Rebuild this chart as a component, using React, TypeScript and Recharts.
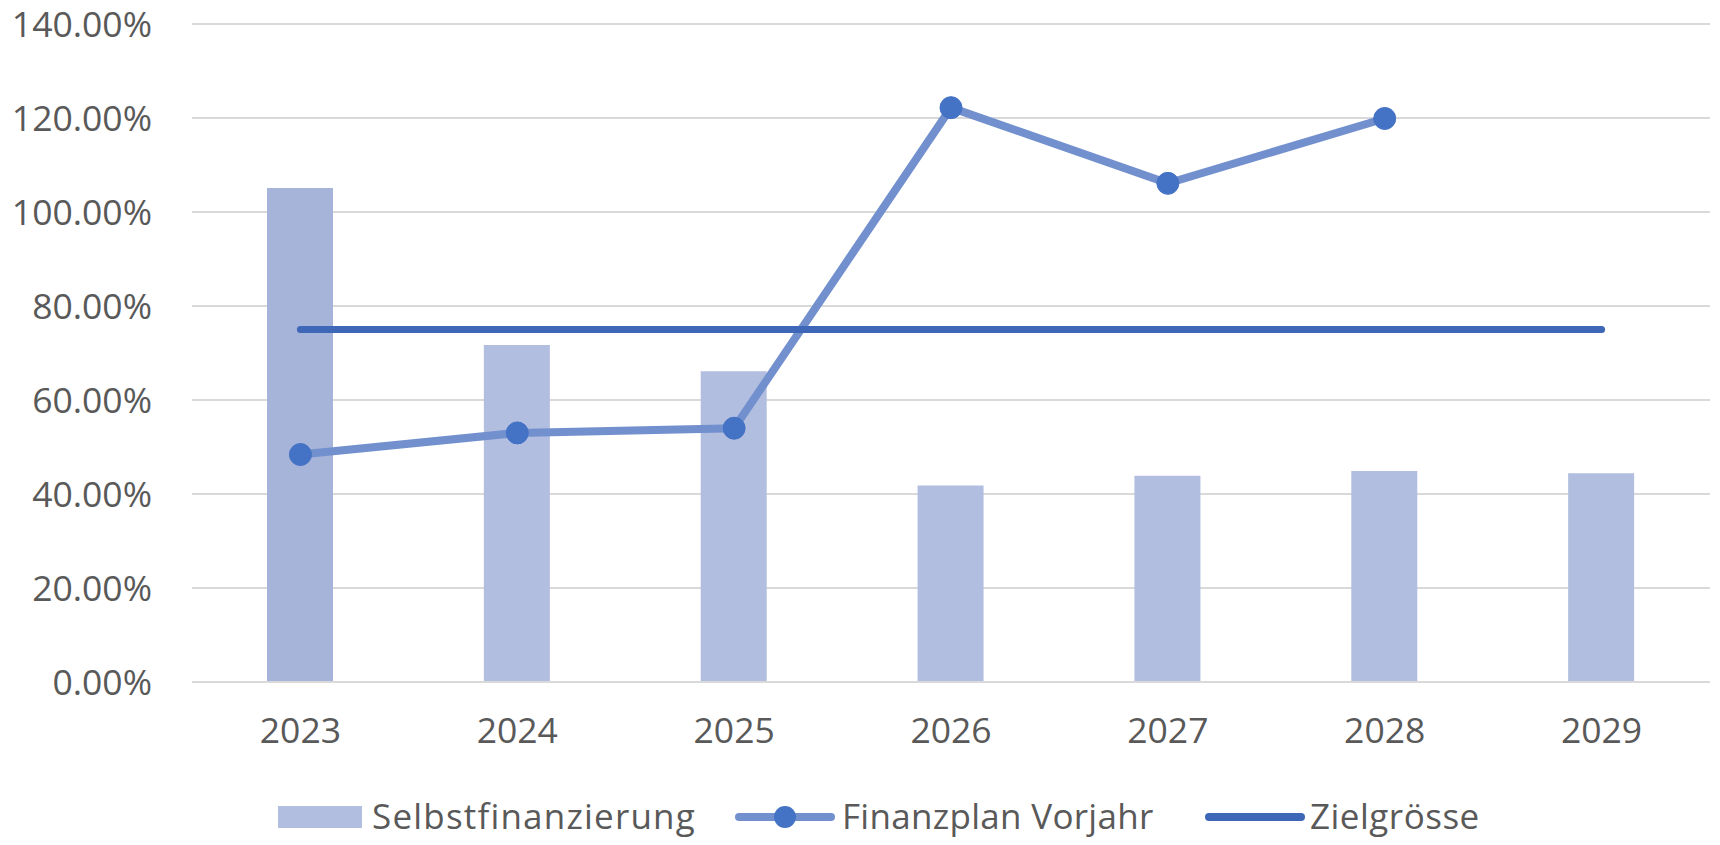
import React from 'react';
import { ComposedChart, Bar, Line, XAxis, YAxis, CartesianGrid, Legend, Cell } from 'recharts';

const years = ['2023', '2024', '2025', '2026', '2027', '2028', '2029'];
const selbstfinanzierung = [105.1, 71.7, 66.1, 41.8, 43.9, 44.9, 44.4];
const finanzplanVorjahr: (number | null)[] = [48.4, 53.0, 54.0, 122.2, 106.1, 119.9, null];
const zielgroesse = [75, 75, 75, 75, 75, 75, 75];
const yTicks = [0, 20, 40, 60, 80, 100, 120, 140];

const data = years.map((y, i) => ({
  year: y,
  selbst: selbstfinanzierung[i],
  finanz: finanzplanVorjahr[i],
  ziel: zielgroesse[i],
}));

const FONT = '"Open Sans", "Noto Sans", sans-serif';
const TEXT = '#595959';
const BAR = '#B2BEE0';
const BAR_FIRST = '#A6B4D9';
const LINE1 = '#7390CE';
const DOT = '#4472C4';
const LINE2 = '#3E67B8';

const LegendContent = () => (
  <div
    style={{
      position: 'relative',
      height: 100,
      width: 1720,
      fontFamily: FONT,
      fontSize: 35,
      color: TEXT,
    }}
  >
    <svg style={{ position: 'absolute', left: 276, top: 52 }} width={90} height={40}>
      <rect x={2} y={9} width={84} height={22} fill={BAR} />
    </svg>
    <span style={{ position: 'absolute', left: 372, top: 47, letterSpacing: 1.2, whiteSpace: 'nowrap' }}>
      Selbstfinanzierung
    </span>
    <svg style={{ position: 'absolute', left: 733, top: 52 }} width={104} height={40}>
      <line x1={6} y1={20} x2={98} y2={20} stroke={LINE1} strokeWidth={8} strokeLinecap="round" />
      <circle cx={52} cy={20} r={11} fill={DOT} />
    </svg>
    <span style={{ position: 'absolute', left: 842, top: 47, letterSpacing: 0.3, whiteSpace: 'nowrap' }}>
      Finanzplan Vorjahr
    </span>
    <svg style={{ position: 'absolute', left: 1203, top: 52 }} width={104} height={40}>
      <line x1={6} y1={20} x2={98} y2={20} stroke={LINE2} strokeWidth={8} strokeLinecap="round" />
    </svg>
    <span style={{ position: 'absolute', left: 1310, top: 47, letterSpacing: 0.5, whiteSpace: 'nowrap' }}>
      Zielgrösse
    </span>
  </div>
);

export default function App() {
  return (
    <div style={{ position: 'absolute', left: 0, top: 0, width: 1720, height: 845, background: '#fff' }}>
      <ComposedChart
        width={1720}
        height={845}
        data={data}
        margin={{ top: 24, right: 10, left: 0, bottom: 0 }}
        barCategoryGap="35%"
      >
        <CartesianGrid vertical={false} stroke="#D9D9D9" strokeWidth={2} />
        <XAxis
          dataKey="year"
          height={63}
          tickSize={0}
          tickMargin={36}
          axisLine={{ stroke: '#D9D9D9', strokeWidth: 2 }}
          tickLine={false}
          tick={{ fill: TEXT, fontSize: 35.5, fontFamily: FONT }}
          interval={0}
        />
        <YAxis
          width={192}
          domain={[0, 140]}
          ticks={yTicks}
          tickFormatter={(v: number) => v.toFixed(2) + '%'}
          tickSize={0}
          tickMargin={40}
          axisLine={false}
          tickLine={false}
          tick={{ fill: TEXT, fontSize: 35.5, fontFamily: FONT }}
        />
        <Legend
          verticalAlign="bottom"
          height={100}
          wrapperStyle={{ left: 0, width: 1720 }}
          content={() => <LegendContent />}
        />
        <Bar dataKey="selbst" name="Selbstfinanzierung" barSize={66} fill={BAR} isAnimationActive={false}>
          {data.map((d, i) => (
            <Cell key={d.year} fill={i === 0 ? BAR_FIRST : BAR} />
          ))}
        </Bar>
        <Line
          dataKey="finanz"
          name="Finanzplan Vorjahr"
          stroke={LINE1}
          strokeWidth={8}
          dot={{ r: 11, fill: DOT, stroke: DOT, strokeWidth: 1 }}
          activeDot={false}
          connectNulls={false}
          isAnimationActive={false}
        />
        <Line
          dataKey="ziel"
          name="Zielgrösse"
          stroke={LINE2}
          strokeWidth={7}
          strokeLinecap="round"
          dot={false}
          activeDot={false}
          isAnimationActive={false}
        />
      </ComposedChart>
    </div>
  );
}
